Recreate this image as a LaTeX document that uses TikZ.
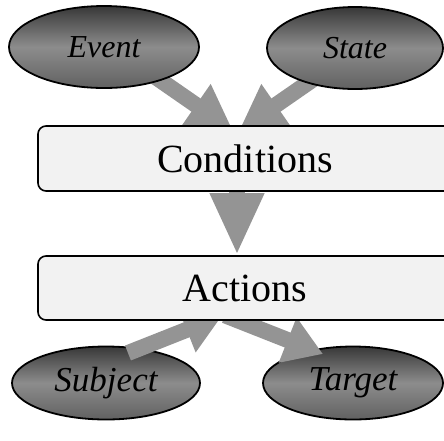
\documentclass[tikz,border=0pt]{standalone}
\usepackage{fontspec}
\setmainfont{Liberation Serif}
\usetikzlibrary{arrows.meta,shapes.geometric,calc}
\pgfdeclarelayer{bg}
\pgfdeclarelayer{fg}
\pgfsetlayers{bg,main,fg}
\begin{document}
\begin{tikzpicture}[x=1pt,y=-1pt,
  oval/.style={ellipse, draw=black, line width=1.8pt, top color=black!78, bottom color=black!62, middle color=black!45, inner sep=0pt},
  smalltxt/.style={font=\itshape\fontsize{32}{32}\selectfont},
  bigtxt/.style={font=\itshape\fontsize{35}{35}\selectfont},
  panel/.style={draw=black, line width=1.6pt, rounded corners=8pt, fill=black!5, font=\fontsize{40}{40}\selectfont, inner sep=0pt},
  blk/.style={draw=black!42, line width=16pt, -{Triangle[length=45pt,width=48pt]}},
  blkdown/.style={draw=black!42, line width=16pt, -{Triangle[length=62pt,width=50pt]}},
  blklow/.style={draw=black!42, line width=16pt, -{Triangle[length=38pt,width=46pt]}},
]
\useasboundingbox (0,0) rectangle (444,440);
\node[oval, smalltxt, minimum width=190pt, minimum height=82pt] (event) at (104,47) {Event};
\node[oval, smalltxt, minimum width=176pt, minimum height=82pt] (state) at (355,48) {State};
\node[oval, bigtxt, minimum width=188pt, minimum height=73pt] (subject) at (106,383) {Subject};
\node[oval, bigtxt, minimum width=180pt, minimum height=73pt] (target) at (353,383) {Target};
\begin{pgfonlayer}{fg}
\node[panel, minimum width=414pt, minimum height=65pt] (cond) at (245,158.5) {Conditions};
\node[panel, minimum width=414pt, minimum height=64pt] (actions) at (245,288) {Actions};
\end{pgfonlayer}
\begin{pgfonlayer}{bg}
\draw[blk] ($(event)+(35,18.5)$) -- ($(cond.north)+(-12,5.5)$);
\draw[blk] ($(state)+(-22,17.5)$) -- ($(cond.north)+(-6,5.5)$);
\draw[blkdown] ($(cond)+(-8,0)$) -- ($(actions.north)+(-8,0)$);
\end{pgfonlayer}
\draw[blklow] ($(subject)+(22,-30)$) -- ($(actions.south)+(-23,-5)$);
\draw[blklow] ($(actions.south)+(-20,-5.5)$) -- ($(target)+(-30,-29)$);
\end{tikzpicture}
\end{document}
